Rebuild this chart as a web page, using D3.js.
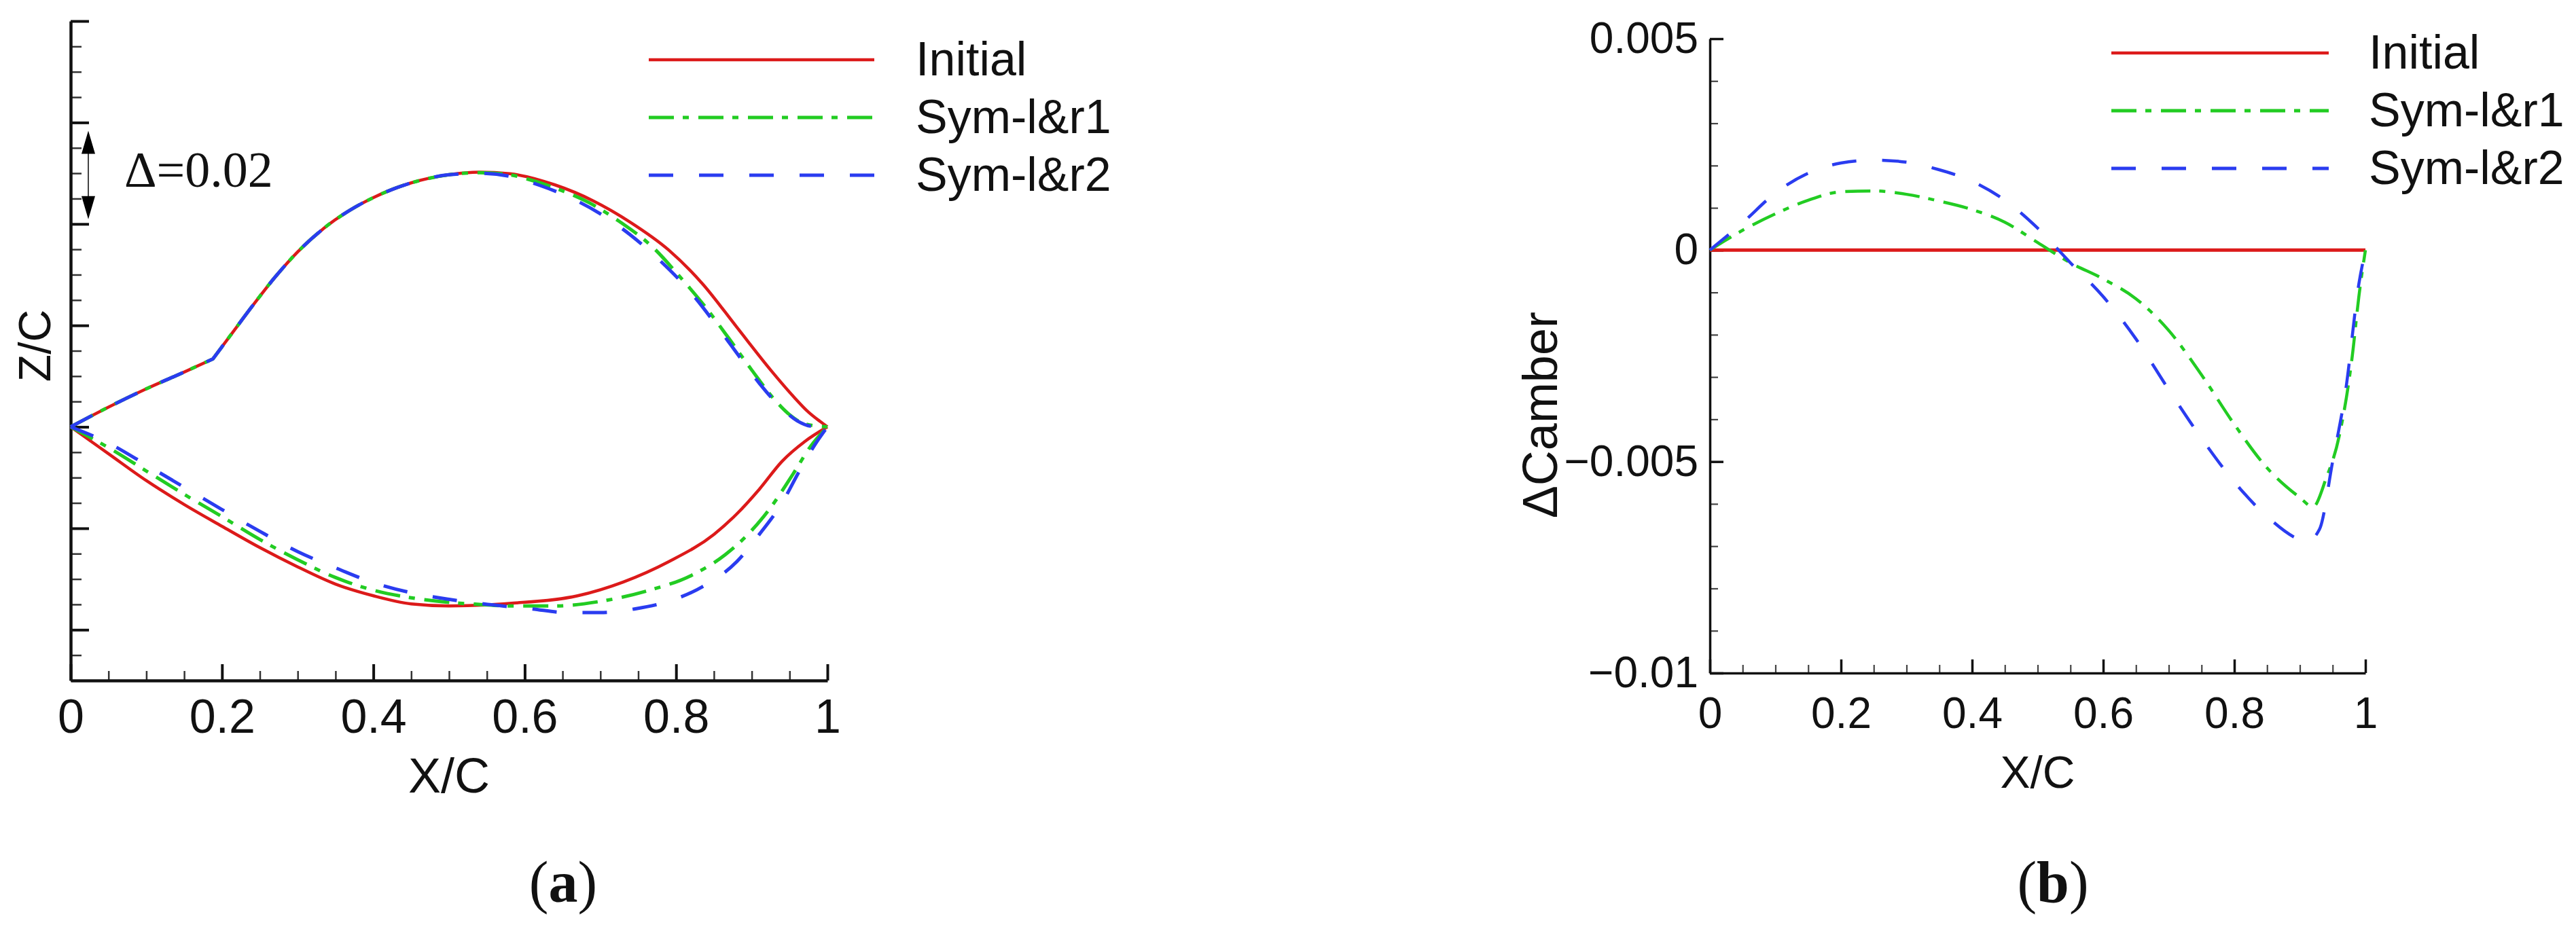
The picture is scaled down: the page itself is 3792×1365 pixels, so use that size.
<!DOCTYPE html>
<html><head><meta charset="utf-8">
<script src="https://cdn.jsdelivr.net/npm/d3@7"></script>
<style>body{margin:0;background:#fff}svg{display:block}</style>
</head><body>
<svg id="c" width="3792" height="1365"></svg>
<script>
// ---------------- DATA ----------------
const seriesNames = ["Initial", "Sym-l&r1", "Sym-l&r2"];
const seriesColors = ["#dc1a1a", "#22cc22", "#2a3cf0"];
const seriesDash = [null, "37,13,9,14", "36,38"];

// (a) airfoil geometry, Z/C vs X/C
const kinkX = 0.188;
const upperInitial = [[0,0],[0.05,0.0039],[0.1,0.0075],[0.15,0.0108],[0.188,0.0134],[0.21,0.0178],[0.24,0.0238],[0.27,0.0295],[0.3,0.0345],[0.335,0.0392],[0.37,0.0428],[0.4,0.0452],[0.45,0.0481],[0.5,0.0497],[0.54,0.0502],[0.58,0.0499],[0.64,0.0477],[0.69,0.0446],[0.74,0.0403],[0.79,0.0349],[0.835,0.0282],[0.88,0.0197],[0.925,0.0112],[0.955,0.006],[0.975,0.0029],[0.99,0.0011],[1,0]];
const upperR1 = [[0,0],[0.05,0.0039],[0.1,0.0075],[0.15,0.0108],[0.188,0.0134],[0.21,0.0178],[0.24,0.0238],[0.27,0.0295],[0.3,0.0345],[0.335,0.0392],[0.37,0.0428],[0.4,0.0452],[0.45,0.0481],[0.5,0.0497],[0.54,0.0501],[0.58,0.0497],[0.6,0.049],[0.64,0.0471],[0.685,0.0442],[0.725,0.0405],[0.77,0.0353],[0.805,0.0296],[0.84,0.0234],[0.87,0.0174],[0.9,0.0112],[0.93,0.0054],[0.95,0.0024],[0.97,0.0006],[1,0]];
const upperR2 = [[0,0],[0.05,0.0039],[0.1,0.0075],[0.15,0.0108],[0.188,0.0134],[0.21,0.0178],[0.24,0.0238],[0.27,0.0295],[0.3,0.0345],[0.335,0.0392],[0.37,0.0428],[0.4,0.0452],[0.45,0.0481],[0.5,0.0497],[0.54,0.05],[0.58,0.0494],[0.62,0.0476],[0.66,0.0452],[0.7,0.042],[0.74,0.0378],[0.78,0.0326],[0.82,0.0264],[0.85,0.0207],[0.88,0.0146],[0.91,0.0086],[0.94,0.0036],[0.96,0.0012],[0.98,0.0001],[1,0]];
const lowerInitial = [[0,0],[0.05,-0.0053],[0.1,-0.0106],[0.15,-0.0153],[0.2,-0.0196],[0.25,-0.0238],[0.3,-0.0276],[0.35,-0.031],[0.4,-0.0333],[0.45,-0.0349],[0.5,-0.0353],[0.55,-0.0351],[0.58,-0.0348],[0.67,-0.0333],[0.73,-0.0306],[0.79,-0.0266],[0.85,-0.0212],[0.88,-0.0172],[0.91,-0.0123],[0.94,-0.0068],[0.97,-0.0029],[1,0]];
const lowerR1 = [[0,0],[0.05,-0.0041],[0.1,-0.0087],[0.15,-0.0133],[0.2,-0.0177],[0.25,-0.0222],[0.3,-0.0262],[0.35,-0.0297],[0.4,-0.0322],[0.45,-0.0337],[0.5,-0.0346],[0.54,-0.035],[0.58,-0.0353],[0.64,-0.0353],[0.7,-0.0344],[0.76,-0.0324],[0.82,-0.0293],[0.865,-0.0252],[0.895,-0.0212],[0.925,-0.0159],[0.955,-0.0092],[0.978,-0.0038],[1,0]];
const lowerR2 = [[0,0],[0.05,-0.0032],[0.1,-0.0075],[0.15,-0.0119],[0.2,-0.0163],[0.25,-0.0206],[0.3,-0.0246],[0.35,-0.0278],[0.4,-0.0307],[0.45,-0.0327],[0.5,-0.034],[0.54,-0.0348],[0.61,-0.0359],[0.655,-0.0366],[0.7,-0.0366],[0.745,-0.0359],[0.79,-0.0344],[0.835,-0.0315],[0.88,-0.0266],[0.91,-0.0212],[0.94,-0.015],[0.963,-0.0087],[0.984,-0.0034],[1,0]];

// (b) camber difference
const camberInitial = [[0,0],[1,0]];
const camberR1 = [[0,0],[0.05,0.00047],[0.1,0.00086],[0.15,0.00118],[0.2,0.00138],[0.25,0.0014],[0.3,0.00132],[0.35,0.00116],[0.4,0.00096],[0.45,0.00066],[0.5,0.00018],[0.55,-0.0003],[0.6,-0.00068],[0.65,-0.00115],[0.7,-0.0019],[0.75,-0.00295],[0.8,-0.00412],[0.85,-0.00515],[0.9,-0.00585],[0.92,-0.00607],[0.94,-0.0054],[0.96,-0.0044],[0.98,-0.0025],[0.99,-0.0011],[1,0]];
const camberR2 = [[0,0],[0.05,0.00065],[0.1,0.00135],[0.15,0.00182],[0.2,0.00206],[0.25,0.00213],[0.3,0.00208],[0.35,0.0019],[0.4,0.00163],[0.45,0.00118],[0.5,0.00052],[0.55,-0.0003],[0.6,-0.0011],[0.65,-0.0021],[0.7,-0.0033],[0.75,-0.00445],[0.8,-0.00548],[0.85,-0.0063],[0.9,-0.00685],[0.91,-0.0069],[0.93,-0.0066],[0.95,-0.005],[0.97,-0.0033],[0.99,-0.0008],[1,0]];

// ticks
const xTicks = [0, 0.2, 0.4, 0.6, 0.8, 1];
const xTickLabels = ["0", "0.2", "0.4", "0.6", "0.8", "1"];
const xMinor = d3.range(0, 1.0001, 0.05);
const zMajor = [-0.04, -0.02, 0, 0.02, 0.04, 0.06, 0.08];
const zMinor = d3.range(-0.05, 0.0801, 0.005);
const cTicks = [0.005, 0, -0.005, -0.01];
const cTickLabels = ["0.005", "0", "\u22120.005", "\u22120.01"];
const cMinor = d3.range(-0.01, 0.00501, 0.001);

// ---------------- DRAW ----------------
const svg = d3.select("#c");
const SANS = "'Liberation Sans', Arial, sans-serif";
const NARROW = "'Liberation Sans Narrow', 'Liberation Sans', Arial, sans-serif";
const SERIF = "'Liberation Serif', 'Times New Roman', serif";

const xA = d3.scaleLinear([0, 1], [104, 1218]);
const zA = d3.scaleLinear([-0.05, 0.08], [1002, 31]);
const xB = d3.scaleLinear([0, 1], [2517, 3482]);
const yB = d3.scaleLinear([-0.01, 0.005], [991, 57]);

function styleAxis(g, w) {
  g.select(".domain").attr("stroke", "#111").attr("stroke-width", w);
  g.selectAll(".tick line").attr("stroke", "#111");
  g.selectAll("text").attr("fill", "#111");
}

// ---- panel (a) axes
const gA = svg.append("g");
gA.append("g").attr("transform", `translate(0,${zA(-0.05)})`)
  .call(d3.axisBottom(xA).tickValues(xMinor).tickSize(-14).tickSizeOuter(0).tickFormat(""))
  .call(g => { g.select(".domain").remove(); g.selectAll(".tick line").attr("stroke","#333").attr("stroke-width",2.5); });
gA.append("g").attr("transform", `translate(${xA(0)},0)`)
  .call(d3.axisLeft(zA).tickValues(zMinor).tickSize(-16).tickSizeOuter(0).tickFormat(""))
  .call(g => { g.select(".domain").remove(); g.selectAll(".tick line").attr("stroke","#333").attr("stroke-width",2.5); });
gA.append("g").attr("transform", `translate(0,${zA(-0.05)})`)
  .call(d3.axisBottom(xA).tickValues(xTicks).tickSize(-24).tickSizeOuter(0).tickPadding(27)
        .tickFormat((d, i) => xTickLabels[i]))
  .call(g => { styleAxis(g, 4.5); g.selectAll(".tick line").attr("stroke-width", 4);
               g.selectAll("text").attr("font-family", SANS).attr("font-size", 70); });
gA.append("g").attr("transform", `translate(${xA(0)},0)`)
  .call(d3.axisLeft(zA).tickValues(zMajor).tickSize(-27).tickSizeOuter(0).tickFormat(""))
  .call(g => { styleAxis(g, 4.5); g.selectAll(".tick line").attr("stroke-width", 4); });

// ---- panel (a) curves
const lineA = d3.line().x(d => xA(d[0])).y(d => zA(d[1])).curve(d3.curveMonotoneX);
function upperPath(pts) {
  const front = pts.filter(p => p[0] <= kinkX), rear = pts.filter(p => p[0] >= kinkX);
  return lineA(front) + lineA(rear).replace(/^M/, "L");
}
const uppers = [upperInitial, upperR1, upperR2];
const lowers = [lowerInitial, lowerR1, lowerR2];
const widthsA = [4.5, 5, 5];
[0, 1, 2].forEach(i => {
  [upperPath(uppers[i]), lineA(lowers[i])].forEach(dStr => {
    gA.append("path").attr("d", dStr).attr("fill", "none")
      .attr("stroke", seriesColors[i]).attr("stroke-width", widthsA[i])
      .attr("stroke-dasharray", seriesDash[i]).attr("stroke-linejoin", "round");
  });
});

// ---- panel (a) annotation
const arrX = xA(0) + 26, arrTop = zA(0.06) + 12, arrBot = zA(0.04) - 7;
gA.append("line").attr("x1", arrX).attr("x2", arrX).attr("y1", arrTop + 20).attr("y2", arrBot - 20)
  .attr("stroke", "#444").attr("stroke-width", 2);
gA.append("path").attr("d", `M${arrX},${arrTop} L${arrX - 10},${arrTop + 34} L${arrX + 10},${arrTop + 34} Z`).attr("fill", "#000");
gA.append("path").attr("d", `M${arrX},${arrBot} L${arrX - 10},${arrBot - 34} L${arrX + 10},${arrBot - 34} Z`).attr("fill", "#000");
gA.append("text").attr("x", 183).attr("y", zA(0.05) + 20).attr("font-family", SERIF).attr("font-size", 74)
  .attr("fill", "#111").text("\u0394=0.02");

// ---- panel (a) labels
gA.append("text").attr("x", (xA(0) + xA(1)) / 2).attr("y", 1167).attr("text-anchor", "middle")
  .attr("font-family", SANS).attr("font-size", 72).attr("fill", "#111").text("X/C");
gA.append("text").attr("transform", `translate(74,${zA(0.016)}) rotate(-90)`).attr("text-anchor", "middle")
  .attr("font-family", SANS).attr("font-size", 66).attr("fill", "#111").text("Z/C");

// ---- legends
function legend(g, x0, x1, tx, ys) {
  seriesNames.forEach((n, i) => {
    g.append("line").attr("x1", x0).attr("x2", x1).attr("y1", ys[i]).attr("y2", ys[i])
      .attr("stroke", seriesColors[i]).attr("stroke-width", i === 0 ? 4.5 : 5)
      .attr("stroke-dasharray", seriesDash[i]);
    g.append("text").attr("x", tx).attr("y", ys[i] + 23).attr("font-family", NARROW)
      .attr("font-size", 70).attr("fill", "#111").text(n);
  });
}
legend(gA, 955, 1287, 1348, [88, 173, 258]);

// ---- panel (b)
const gB = svg.append("g");
gB.append("g").attr("transform", `translate(0,${yB(-0.01)})`)
  .call(d3.axisBottom(xB).tickValues(xMinor).tickSize(-12).tickSizeOuter(0).tickFormat(""))
  .call(g => { g.select(".domain").remove(); g.selectAll(".tick line").attr("stroke","#444").attr("stroke-width",2.2); });
gB.append("g").attr("transform", `translate(${xB(0)},0)`)
  .call(d3.axisLeft(yB).tickValues(cMinor).tickSize(-12).tickSizeOuter(0).tickFormat(""))
  .call(g => { g.select(".domain").remove(); g.selectAll(".tick line").attr("stroke","#444").attr("stroke-width",2.2); });
gB.append("g").attr("transform", `translate(0,${yB(-0.01)})`)
  .call(d3.axisBottom(xB).tickValues(xTicks).tickSize(-20).tickSizeOuter(0).tickPadding(36)
        .tickFormat((d, i) => xTickLabels[i]))
  .call(g => { styleAxis(g, 3.5); g.selectAll(".tick line").attr("stroke-width", 3.5);
               g.selectAll("text").attr("font-family", SANS).attr("font-size", 64); });
gB.append("g").attr("transform", `translate(${xB(0)},0)`)
  .call(d3.axisLeft(yB).tickValues(cTicks).tickSize(-20).tickSizeOuter(0).tickPadding(17)
        .tickFormat((d, i) => cTickLabels[i]))
  .call(g => { styleAxis(g, 3.5); g.selectAll(".tick line").attr("stroke-width", 3.5);
               g.selectAll("text").attr("font-family", SANS).attr("font-size", 64); });

const lineB = d3.line().x(d => xB(d[0])).y(d => yB(d[1])).curve(d3.curveMonotoneX);
[camberInitial, camberR1, camberR2].forEach((pts, i) => {
  gB.append("path").attr("d", lineB(pts)).attr("fill", "none")
    .attr("stroke", seriesColors[i]).attr("stroke-width", i === 0 ? 5 : 4.5)
    .attr("stroke-dasharray", seriesDash[i]).attr("stroke-linejoin", "round");
});
legend(gB, 3108, 3428, 3487, [78, 163, 248]);

gB.append("text").attr("x", (xB(0) + xB(1)) / 2).attr("y", 1160).attr("text-anchor", "middle")
  .attr("font-family", SANS).attr("font-size", 66).attr("fill", "#111").text("X/C");
gB.append("text").attr("transform", `translate(2292,${yB(-0.0039)}) rotate(-90)`).attr("text-anchor", "middle")
  .attr("font-family", SANS).attr("font-size", 72).attr("fill", "#111").text("\u0394Camber");

// ---- panel captions
[["a", 829], ["b", 3022]].forEach(([c, x]) => {
  const t = svg.append("text").attr("x", x).attr("y", 1328).attr("text-anchor", "middle")
    .attr("font-family", SERIF).attr("font-size", 86).attr("fill", "#111");
  t.append("tspan").text("(");
  t.append("tspan").attr("font-weight", "bold").text(c);
  t.append("tspan").text(")");
});
</script>
</body></html>
